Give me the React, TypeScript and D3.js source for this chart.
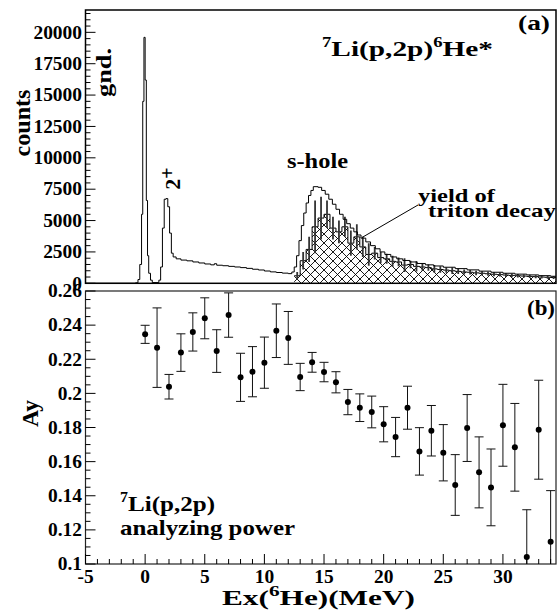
import React from "react";
import * as d3 from "d3";

// ---------- data ----------
// main spectrum: bin left edges (MeV) and counts
const specEdges = [-5.0,-0.8,-0.6,-0.45,-0.3,-0.2,-0.1,0.0,0.1,0.2,0.3,0.45,0.6,1.15,1.3,1.45,1.6,1.75,1.9,2.05,2.2,2.35,2.6,3.0,3.5,4.0,4.5,5.0,5.5,5.8,6.0,6.5,7.0,7.5,8.0,8.5,9.0,9.5,10.0,10.5,11.0,11.5,12.0,12.3,12.5,12.7,12.9,13.1,13.3,13.5,13.7,13.9,14.1,14.5,14.8,15.1,15.4,15.7,16.0,16.3,16.6,16.9,17.2,17.5,17.8,18.1,18.5,18.9,19.3,19.7,20.1,20.6,21.1,21.6,22.2,22.8,23.5,24.2,25.0,26.0,27.0,28.0,29.0,30.0,31.0,32.0,33.0,34.0,34.5];
const specCounts = [0,40,300,1500,5500,14500,19600,16200,6600,2200,800,250,60,250,1300,4400,6700,6750,6100,4000,2400,2100,1950,1850,1790,1700,1620,1540,1470,1560,1440,1400,1350,1300,1250,1190,1120,1060,980,910,860,810,770,900,1300,2200,3400,4600,5600,6400,7000,7400,7700,7650,7400,7100,6700,6300,5900,5500,5100,4750,4400,4100,3850,3600,3300,3000,2750,2500,2300,2100,1950,1820,1700,1580,1470,1380,1280,1170,1070,970,880,800,730,670,610,560,560];

// triton-decay yield: bin left edges, counts, errors
const tritEdges = [12.5,13.0,13.5,14.0,14.5,15.0,15.5,16.0,16.5,17.0,17.5,18.0,18.5,19.0,19.5,20.0,20.5,21.0,21.5,22.0,22.5,23.0,23.5,24.0,24.5,25.0,25.5,26.0,26.5,27.0,27.5,28.0,28.5,29.0,29.5,30.0,30.5,31.0,31.5,32.0,32.5,33.0,33.5,34.0];
const tritCounts = [600,1800,2700,4500,5200,5500,4400,4100,4500,3200,3700,2900,2300,2400,2050,1950,1750,1700,1450,1500,1350,1300,1250,1150,1100,1050,1000,950,900,880,830,800,760,720,690,660,630,600,580,550,530,500,480,460];
const tritErr = [300,700,1000,2100,1700,1100,900,900,800,1000,1000,800,900,500,450,400,450,350,550,300,400,300,250,300,250,200,250,200,200,180,180,170,160,160,150,150,140,140,130,130,120,120,110,110];

// analyzing power
const ayEx = [0,1,2,3,4,5,6,7,8,9,10,11,12,13,14,15,16,17,18,19,20,21,22,23,24,25,26,27,28,29,30,31,32,33,34];
const ayVal = [0.2346,0.2268,0.2039,0.2239,0.236,0.244,0.2248,0.2459,0.2094,0.2127,0.218,0.2367,0.2325,0.2096,0.2182,0.2125,0.2065,0.1949,0.1916,0.1891,0.1819,0.1744,0.1916,0.166,0.1781,0.1652,0.1463,0.1797,0.1537,0.1449,0.1813,0.1684,0.1041,0.1787,0.113];
const ayErr = [0.0053,0.0233,0.0072,0.011,0.0112,0.012,0.0125,0.013,0.0141,0.0147,0.015,0.0157,0.0155,0.008,0.0058,0.0057,0.0062,0.0074,0.0081,0.0093,0.0103,0.0115,0.0126,0.0139,0.0148,0.0165,0.0178,0.0196,0.0208,0.0225,0.024,0.0257,0.0277,0.029,0.03];

// ticks
const xMajor = [-5,0,5,10,15,20,25,30];
const topYMajor = [0,2500,5000,7500,10000,12500,15000,17500,20000];
const botYMajor = [0.1,0.12,0.14,0.16,0.18,0.2,0.22,0.24,0.26];
const botYLabels = ["0.1","0.12","0.14","0.16","0.18","0.2","0.22","0.24","0.26"];

const FONT = "Liberation Serif, Times New Roman, Times, serif";

export default function App() {
  const L = 85.5, R = 556;
  const topT = 10, topB = 283.3;
  const botT = 291, botB = 564;

  const x = d3.scaleLinear().domain([-5, 34.45]).range([L, R]);
  const yT = d3.scaleLinear().domain([0, 21780]).range([topB, topT]);
  const yB = d3.scaleLinear().domain([0.1, 0.26]).range([botB, botT]);

  const step = d3.line<[number, number]>().x(d => x(d[0])).y(d => yT(d[1])).curve(d3.curveStepAfter);
  const specPts: [number, number][] = specEdges.map((e, i) => [e, specCounts[i]]);
  const specPath = step(specPts) || "";

  const tritPts: [number, number][] = tritEdges.map((e, i) => [e, tritCounts[i]]);
  tritPts.push([34.5, tritCounts[tritCounts.length - 1]]);
  const area = d3.area<[number, number]>().x(d => x(d[0])).y0(topB).y1(d => yT(d[1])).curve(d3.curveStepAfter);
  const tritArea = area(tritPts) || "";
  const tritLine = step(tritPts) || "";

  const topMinor = d3.range(0, 21780, 500).filter(v => v % 2500 !== 0);
  const botMinor = d3.range(0, 33).map(i => 0.1 + i * 0.005).filter(v => Math.abs((v - 0.1) / 0.02 - Math.round((v - 0.1) / 0.02)) > 1e-6);
  const xMinor = d3.range(-5, 35, 1).filter(v => v % 5 !== 0);

  const txt = { fontFamily: FONT, fontWeight: "bold" as const, fill: "#000" };

  return (
    <svg width={557} height={611} style={{ position: "absolute", left: 0, top: 0, background: "#fff" }}>
      <defs>
        <clipPath id="clipTop"><rect x={L} y={topT} width={R - L} height={topB - topT} /></clipPath>
        <clipPath id="clipBot"><rect x={L} y={botT} width={R - L} height={botB - botT} /></clipPath>
        <pattern id="xhatch" patternUnits="userSpaceOnUse" width={9} height={9}>
          <path d="M0,0 L9,9 M9,0 L0,9" stroke="#000" strokeWidth={0.9} />
        </pattern>
      </defs>
      <rect x={0} y={0} width={557} height={611} fill="#fff" />

      {/* ---------- top panel ---------- */}
      <g clipPath="url(#clipTop)">
        <path d={tritArea} fill="url(#xhatch)" />
        <path d={tritLine} fill="none" stroke="#000" strokeWidth={1} />
        {tritEdges.map((e, i) => {
          const cx = x(e + 0.25);
          return <line key={i} x1={cx} x2={cx} y1={yT(tritCounts[i] + tritErr[i])} y2={yT(tritCounts[i] - tritErr[i])} stroke="#333" strokeWidth={1.8} />;
        })}
        <path d={specPath} fill="none" stroke="#000" strokeWidth={1} />
      </g>
      <rect x={L} y={topT} width={R - L} height={topB - topT} fill="none" stroke="#000" strokeWidth={1.5} />
      {topYMajor.map(v => <line key={"tM" + v} x1={L} x2={L + 10} y1={yT(v)} y2={yT(v)} stroke="#000" strokeWidth={1} />)}
      {topMinor.map(v => <line key={"tm" + v} x1={L} x2={L + 5} y1={yT(v)} y2={yT(v)} stroke="#000" strokeWidth={1} />)}
      {topYMajor.map(v => (
        <g key={"tl" + v} transform={`translate(82,${yT(v)}) scale(1.08,1)`}>
          <text textAnchor="end" dy="0.35em" fontSize={18} {...txt}>{v}</text>
        </g>
      ))}

      <text transform="translate(30,123) rotate(-90)" textAnchor="middle" fontSize={24} textLength={67} lengthAdjust="spacingAndGlyphs" {...txt}>counts</text>
      <text transform="translate(111,72.5) rotate(-90)" textAnchor="middle" fontSize={22} textLength={49} lengthAdjust="spacingAndGlyphs" {...txt}>gnd.</text>
      <text transform="translate(180,178.5) rotate(-90)" textAnchor="middle" fontSize={22} {...txt}>2<tspan dy={-6} fontSize={20}>+</tspan></text>

      <text x={322} y={56} fontSize={22} textLength={171} lengthAdjust="spacingAndGlyphs" {...txt}>
        <tspan fontSize={14} dy={-9}>7</tspan><tspan dy={9}>Li(p,2p)</tspan><tspan fontSize={14} dy={-9}>6</tspan><tspan dy={9}>He*</tspan>
      </text>
      <text x={518} y={30} fontSize={20} textLength={32} lengthAdjust="spacingAndGlyphs" {...txt}>(a)</text>
      <text x={287} y={168} fontSize={21} textLength={61} lengthAdjust="spacingAndGlyphs" {...txt}>s-hole</text>
      <text x={418} y={202} fontSize={19} textLength={77} lengthAdjust="spacingAndGlyphs" {...txt}>yield of</text>
      <text x={428} y={217} fontSize={19} textLength={128} lengthAdjust="spacingAndGlyphs" {...txt}>triton decay</text>
      <line x1={418} y1={205} x2={362} y2={237.5} stroke="#000" strokeWidth={1} />

      {/* ---------- bottom panel ---------- */}
      <g clipPath="url(#clipBot)">
        {ayEx.map((e, i) => {
          const cx = x(e);
          const y1 = yB(ayVal[i] + ayErr[i]);
          const y2 = yB(ayVal[i] - ayErr[i]);
          return (
            <g key={"ay" + i}>
              <line x1={cx} x2={cx} y1={y1} y2={y2} stroke="#111" strokeWidth={1} />
              <line x1={cx - 4.5} x2={cx + 4.5} y1={y1} y2={y1} stroke="#111" strokeWidth={1} />
              <line x1={cx - 4.5} x2={cx + 4.5} y1={y2} y2={y2} stroke="#111" strokeWidth={1} />
              <circle cx={cx} cy={yB(ayVal[i])} r={3} fill="#000" />
            </g>
          );
        })}
      </g>
      <rect x={L} y={botT} width={R - L} height={botB - botT} fill="none" stroke="#222" strokeWidth={1.2} />
      {botYMajor.map(v => <line key={"bM" + v} x1={L} x2={L + 10} y1={yB(v)} y2={yB(v)} stroke="#000" strokeWidth={1} />)}
      {botMinor.map((v, i) => <line key={"bm" + i} x1={L} x2={L + 5} y1={yB(v)} y2={yB(v)} stroke="#000" strokeWidth={1} />)}
      {xMajor.map(v => <line key={"xM" + v} x1={x(v)} x2={x(v)} y1={botB} y2={botB - 10} stroke="#000" strokeWidth={1} />)}
      {xMinor.map(v => <line key={"xm" + v} x1={x(v)} x2={x(v)} y1={botB} y2={botB - 5} stroke="#000" strokeWidth={1} />)}
      {botYMajor.map((v, i) => (
        <g key={"bl" + i} transform={`translate(82,${yB(v)}) scale(1.08,1)`}>
          <text textAnchor="end" dy="0.35em" fontSize={18} {...txt}>{botYLabels[i]}</text>
        </g>
      ))}
      {xMajor.map(v => (
        <g key={"xl" + v} transform={`translate(${x(v)},583) scale(1.08,1)`}>
          <text textAnchor="middle" fontSize={18} {...txt}>{v}</text>
        </g>
      ))}
      <text x={222} y={605} fontSize={22} textLength={193} lengthAdjust="spacingAndGlyphs" {...txt}>
        Ex(<tspan fontSize={15} dy={-9}>6</tspan><tspan dy={9}>He)(MeV)</tspan>
      </text>
      <text transform="translate(38,413.5) rotate(-90)" textAnchor="middle" fontSize={24} textLength={27} lengthAdjust="spacingAndGlyphs" {...txt}>Ay</text>
      <text x={527} y={315} fontSize={20} textLength={28} lengthAdjust="spacingAndGlyphs" {...txt}>(b)</text>
      <text x={120} y={511} fontSize={22} textLength={95} lengthAdjust="spacingAndGlyphs" {...txt}>
        <tspan fontSize={14} dy={-9}>7</tspan><tspan dy={9}>Li(p,2p)</tspan>
      </text>
      <text x={120} y={535} fontSize={22} textLength={175} lengthAdjust="spacingAndGlyphs" {...txt}>analyzing power</text>
    </svg>
  );
}
